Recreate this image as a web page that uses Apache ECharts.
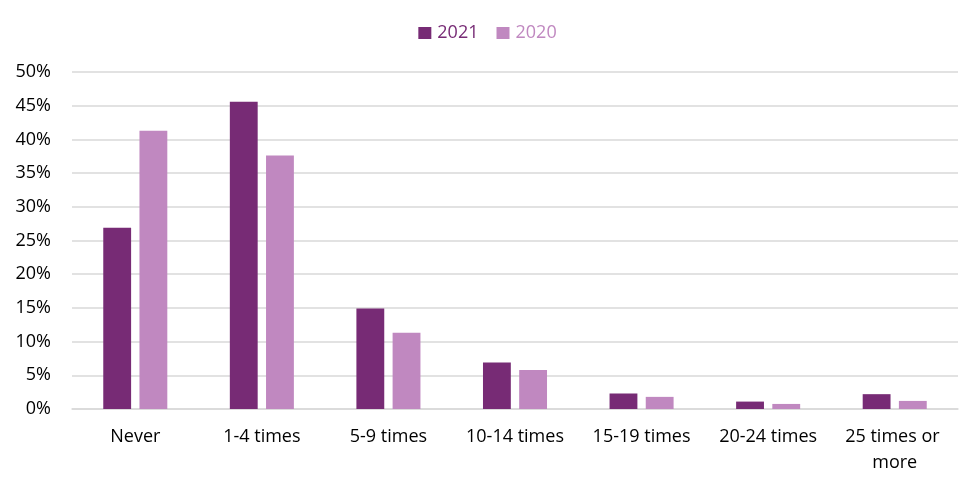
<!DOCTYPE html>
<html>
<head>
<meta charset="utf-8">
<script src="https://cdn.jsdelivr.net/npm/echarts@6/dist/echarts.min.js"></script>
<style>html,body{margin:0;padding:0;background:#fff;}#c{width:975px;height:489px;}</style>
</head>
<body>
<div id="c"></div>
<script>
const categories = ['Never', '1-4 times', '5-9 times', '10-14 times', '15-19 times', '20-24 times', '25 times or more'];
const values2021 = [26.9, 45.6, 14.9, 6.9, 2.3, 1.1, 2.2];
const values2020 = [41.3, 37.6, 11.3, 5.8, 1.8, 0.75, 1.2];
const yTicks = [0, 5, 10, 15, 20, 25, 30, 35, 40, 45, 50];

const chart = echarts.init(document.getElementById('c'));
const font = '"Open Sans", "Noto Sans", sans-serif';
chart.setOption({
  animation: false,
  textStyle: { fontFamily: font },
  legend: {
    top: 19, left: 'center', itemWidth: 13, itemHeight: 12, itemGap: 18,
    icon: 'rect',
    textStyle: { fontSize: 18, fontFamily: font, color: 'inherit', padding: [0, 0, 0, 1] },
    data: ['2021', '2020']
  },
  grid: { left: 72, right: 17, top: 72, bottom: 80, containLabel: false },
  xAxis: {
    type: 'category', data: categories,
    axisLine: { lineStyle: { color: '#d9d9d9', width: 1.5 } },
    axisTick: { show: false },
    axisLabel: { fontSize: 18, color: '#000', margin: 15, width: 122, overflow: 'break', lineHeight: 26, interval: 0, fontFamily: font }
  },
  yAxis: {
    type: 'value', min: yTicks[0], max: yTicks[yTicks.length - 1], interval: 5,
    axisLine: { show: false }, axisTick: { show: false },
    splitLine: { lineStyle: { color: '#d9d9d9', width: 1.5 } },
    axisLabel: { fontSize: 18, color: '#000', margin: 21, formatter: v => v + '%', fontFamily: font }
  },
  series: [
    { name: '2021', type: 'bar', data: values2021, barWidth: '22%', barGap: '30%', itemStyle: { color: '#772B75' } },
    { name: '2020', type: 'bar', data: values2020, barWidth: '22%', itemStyle: { color: '#C088C0' } }
  ]
});
</script>
</body>
</html>
